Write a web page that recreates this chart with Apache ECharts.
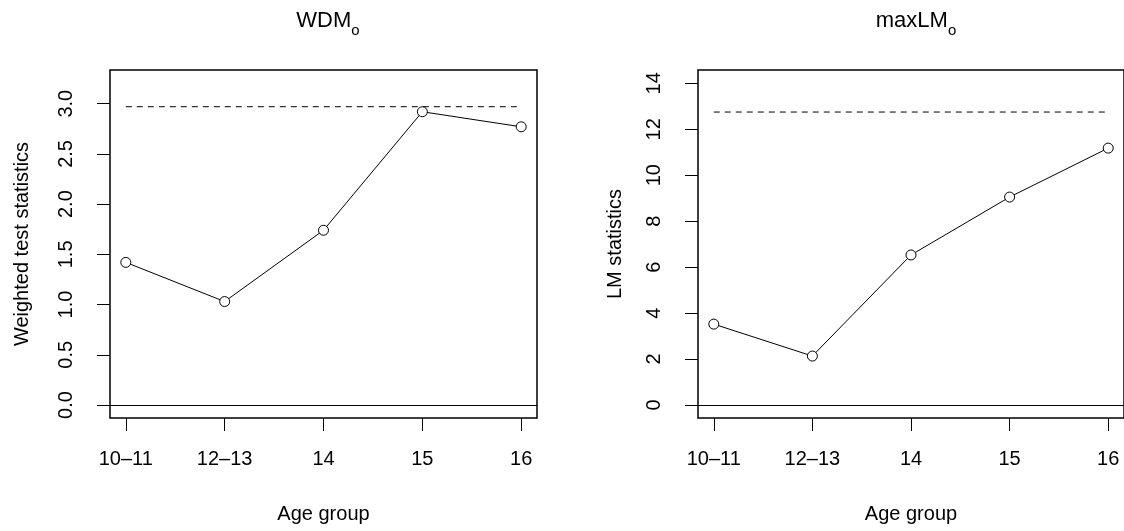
<!DOCTYPE html>
<html>
<head>
<meta charset="utf-8">
<script src="https://cdn.jsdelivr.net/npm/echarts@6/dist/echarts.min.js"></script>
<style>html,body{margin:0;padding:0;background:#fff}#c{width:1124px;height:531px}</style>
</head>
<body>
<div id="c"></div>
<script>
const categories = ['10\u201311', '12\u201313', '14', '15', '16'];
const categoryPositions = [1, 2, 3, 4, 5];
const wdmValues = [1.42, 1.03, 1.74, 2.92, 2.77];
const wdmCritical = 2.97;
const lmValues = [3.52, 2.13, 6.53, 9.05, 11.18];
const lmCritical = 12.75;
const wdmTicks = [0, 0.5, 1.0, 1.5, 2.0, 2.5, 3.0];
const lmTicks = [0, 2, 4, 6, 8, 10, 12, 14];

const FONT = '"Liberation Sans", Arial, sans-serif';
const FS = 20;

function xAxisFor(gridIndex) {
  return {
    type: 'value', gridIndex, min: 0.84, max: 5.16, position: 'bottom',
    name: 'Age group', nameLocation: 'middle', nameGap: 86,
    nameTextStyle: { fontFamily: FONT, fontSize: FS, color: '#000' },
    axisLine: { show: false, onZero: false },
    splitLine: { show: false },
    axisTick: { show: true, customValues: categoryPositions, length: 13, lineStyle: { color: '#000', width: 1 } },
    axisLabel: { customValues: categoryPositions, margin: 31, fontFamily: FONT, fontSize: FS, color: '#000',
      formatter: v => categories[Math.round(v) - 1] }
  };
}
function yAxisFor(gridIndex, min, max, ticks, name, nameGap, fmt) {
  return {
    type: 'value', gridIndex, min, max, position: 'left',
    name, nameLocation: 'middle', nameGap,
    nameTextStyle: { fontFamily: FONT, fontSize: FS, color: '#000' },
    axisLine: { show: false, onZero: false },
    splitLine: { show: false },
    axisTick: { show: true, customValues: ticks, length: 13, lineStyle: { color: '#000', width: 1 } },
    axisLabel: { customValues: ticks, rotate: 90, margin: 34, fontFamily: FONT, fontSize: FS, color: '#000', formatter: fmt }
  };
}
function pts(vals) { return vals.map((v, i) => [categoryPositions[i], v]); }
function critLine(c) { return [[categoryPositions[0], c], [categoryPositions[categoryPositions.length - 1], c]]; }

const zeroMark = { silent: true, symbol: 'none', label: { show: false },
  lineStyle: { color: '#000', width: 1, type: 'solid' }, data: [{ yAxis: 0 }] };

const titleRich = {
  m: { fontFamily: FONT, fontSize: 22, fontWeight: 'normal', color: '#000', verticalAlign: 'bottom', lineHeight: 26 },
  s: { fontFamily: FONT, fontSize: 15, fontWeight: 'normal', color: '#000', verticalAlign: 'bottom', lineHeight: 26, padding: [0, 0, -6, 0] }
};

const chart = echarts.init(document.getElementById('c'), null, { renderer: 'canvas' });
chart.setOption({
  animation: false,
  backgroundColor: '#fff',
  title: [
    { text: '{m|WDM}{s|o}', left: 323, top: 1, textAlign: 'center', textStyle: { fontWeight: 'normal', rich: titleRich } },
    { text: '{m|maxLM}{s|o}', left: 911, top: 1, textAlign: 'center', textStyle: { fontWeight: 'normal', rich: titleRich } }
  ],
  grid: [
    { left: 110, top: 70, width: 427, height: 348, show: true, borderColor: '#000', borderWidth: 1.5, backgroundColor: 'transparent' },
    { left: 698, top: 70, width: 427, height: 348, show: true, borderColor: '#000', borderWidth: 1.5, backgroundColor: 'transparent' }
  ],
  xAxis: [xAxisFor(0), xAxisFor(1)],
  yAxis: [
    yAxisFor(0, -0.1294, 3.3356, wdmTicks, 'Weighted test statistics', 78, v => v.toFixed(1)),
    yAxisFor(1, -0.566, 14.58, lmTicks, 'LM statistics', 73, v => String(Math.round(v)))
  ],
  series: [
    { type: 'line', xAxisIndex: 0, yAxisIndex: 0, data: critLine(wdmCritical), symbol: 'none',
      lineStyle: { color: '#000', width: 1, type: [6, 5] }, silent: true, markLine: zeroMark },
    { type: 'line', xAxisIndex: 0, yAxisIndex: 0, data: pts(wdmValues), symbol: 'circle', symbolSize: 10,
      lineStyle: { color: '#000', width: 1 }, itemStyle: { color: '#fff', borderColor: '#000', borderWidth: 1 }, silent: true },
    { type: 'line', xAxisIndex: 1, yAxisIndex: 1, data: critLine(lmCritical), symbol: 'none',
      lineStyle: { color: '#000', width: 1, type: [6, 5] }, silent: true, markLine: zeroMark },
    { type: 'line', xAxisIndex: 1, yAxisIndex: 1, data: pts(lmValues), symbol: 'circle', symbolSize: 10,
      lineStyle: { color: '#000', width: 1 }, itemStyle: { color: '#fff', borderColor: '#000', borderWidth: 1 }, silent: true }
  ]
});
</script>
</body>
</html>
